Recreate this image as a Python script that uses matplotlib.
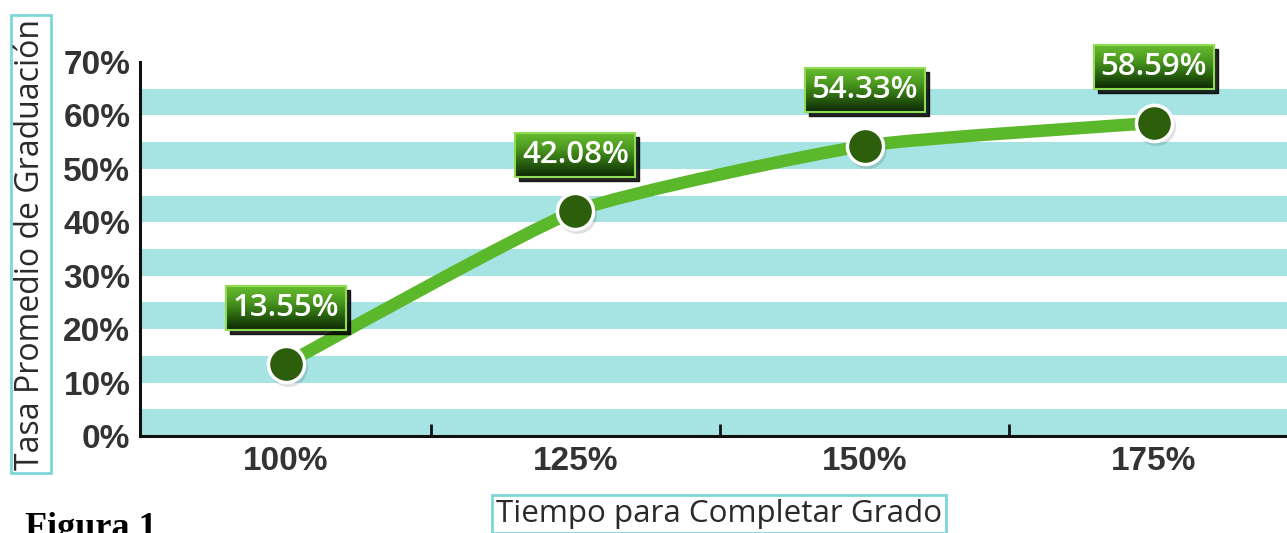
import numpy as np
import matplotlib.pyplot as plt
from matplotlib.path import Path
from matplotlib.patches import PathPatch, Rectangle
from matplotlib.colors import LinearSegmentedColormap

# data
categories = ["100%", "125%", "150%", "175%"]
rates = [13.55, 42.08, 54.33, 58.59]
labels = ["13.55%", "42.08%", "54.33%", "58.59%"]
y_ticks = [0, 10, 20, 30, 40, 50, 60, 70]
y_tick_labels = ["0%", "10%", "20%", "30%", "40%", "50%", "60%", "70%"]

W, H = 1287, 533
fig = plt.figure(figsize=(W / 100, H / 100), dpi=100)
ax = fig.add_axes([140 / W, 97 / H, 1 - 140 / W, 374 / H])

xlo, xhi = -0.505, 3.46
ax.set_xlim(xlo, xhi)
ax.set_ylim(0, 70)
px_x = (xhi - xlo) / (W - 140)   # data units per pixel
px_y = 70 / 374

# striped background
for k in range(7):
    ax.axhspan(10 * k, 10 * k + 5, color="#a6e3e3", lw=0, zorder=0)

# gently smoothed line through the data points
xs = np.arange(len(rates), dtype=float)
ys = np.array(rates)
pts = np.column_stack([xs, ys])
ext = np.vstack([pts[0], pts, pts[-1]])
verts = [pts[0]]
codes = [Path.MOVETO]
for i in range(len(pts) - 1):
    p0, p1, p2, p3 = ext[i], ext[i + 1], ext[i + 2], ext[i + 3]
    verts += [p1 + (p2 - p0) / 12, p2 - (p3 - p1) / 12, p2]
    codes += [Path.CURVE4] * 3
ax.add_patch(PathPatch(Path(verts, codes), fill=False, ec="#5cb82b", lw=9,
                       capstyle="round", zorder=3))

# marker shadow + markers
ax.plot(xs + 2 * px_x, ys - 3 * px_y, "o", ms=28, color="#000000", alpha=0.12,
        zorder=3.5, mew=0)
ax.plot(xs, ys, "o", ms=26, mfc="#2d5e0b", mec="white", mew=2.5, zorder=4)

# gradient label boxes
cmap = LinearSegmentedColormap.from_list(
    "g", ["#0e2804", "#2a6410", "#4c9a20", "#66bb2e"])
grad = np.linspace(0, 1, 64).reshape(-1, 1)
bw, bh = 120 * px_x, 44 * px_y
for x, v, lab in zip(xs, rates, labels):
    cy = v + 10.5
    x0, y0 = x - bw / 2, cy - bh / 2
    ax.add_patch(Rectangle((x0 + 4 * px_x, y0 - 4 * px_y), bw, bh,
                           color="black", alpha=0.85, zorder=5, clip_on=False))
    ax.imshow(grad, extent=[x0, x0 + bw, y0, y0 + bh], cmap=cmap,
              origin="lower", aspect="auto", zorder=6, clip_on=False)
    ax.add_patch(Rectangle((x0, y0), bw, bh, fill=False, ec="#8fdc52", lw=1.5,
                           zorder=7, clip_on=False))
    ax.text(x, cy, lab, ha="center", va="center", color="white",
            fontsize=22.5, family="Open Sans", fontweight="semibold", zorder=8)

ax.set_xlim(xlo, xhi)
ax.set_ylim(0, 70)

# axes styling
for s in ["top", "right"]:
    ax.spines[s].set_visible(False)
for s in ["left", "bottom"]:
    ax.spines[s].set_linewidth(2.2)
    ax.spines[s].set_color("#111111")
ax.set_xticks(xs)
ax.set_xticklabels(categories)
ax.set_xticks([0.5, 1.5, 2.5], minor=True)
ax.tick_params(axis="x", which="major", length=0, pad=7)
ax.tick_params(axis="x", which="minor", direction="in", length=9, width=2,
               color="#111111")
ax.set_yticks(y_ticks)
ax.set_yticklabels(y_tick_labels)
ax.tick_params(axis="y", length=0, pad=7)
for t in ax.get_xticklabels() + ax.get_yticklabels():
    t.set_family("Liberation Sans")
    t.set_fontweight("bold")
    t.set_fontsize(24)
    t.set_color("#333333")

# axis titles in boxes
box = dict(boxstyle="square,pad=0.12", fc="white", ec="#7fd6da", lw=2)
fig.text(31 / W, 1 - 244 / H, "Tasa Promedio de Graduación", rotation=90,
         ha="center", va="center", fontsize=23, family="Open Sans",
         color="#2a2a2a", bbox=box)
fig.text(719 / W, 1 - 514 / H, "Tiempo para Completar Grado", ha="center",
         va="center", fontsize=22.6, family="Open Sans", color="#2a2a2a",
         bbox=box)
fig.text(25 / W, 1 - 512 / H, "Figura 1", ha="left", va="top", fontsize=26,
         family="Liberation Serif", fontweight="bold", color="black")

fig.savefig("out.png", dpi=100)
